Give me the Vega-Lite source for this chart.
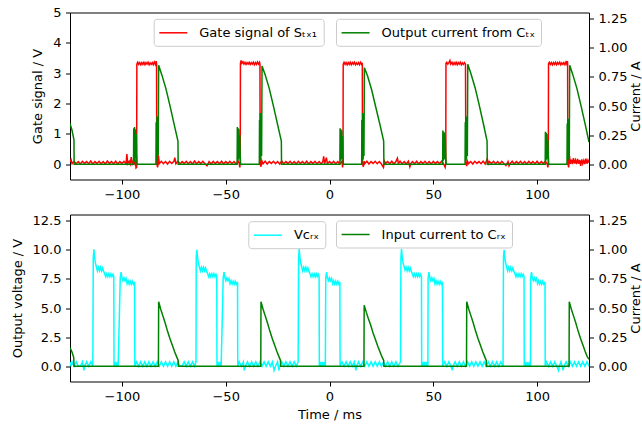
{
"$schema": "https://vega.github.io/schema/vega-lite/v6.json",
"background": "white",
"padding": {"left": 10, "top": 5.5, "right": 0, "bottom": 0},
"autosize": {"type": "pad"},
"spacing": 11,
"align": "each",
"config": {
 "font": "DejaVu Sans",
 "view": {"stroke": "#000000", "strokeWidth": 1},
 "axis": {"domain": false, "grid": false, "tickColor": "#000000", "tickWidth": 1, "tickSize": 4.5, "labelFont": "DejaVu Sans", "labelFontSize": 13, "labelColor": "#000000", "labelPadding": 4.5, "titleFont": "DejaVu Sans", "titleFontSize": 13, "titleFontWeight": "normal", "titleColor": "#000000", "titlePadding": 8, "labelFlush": false, "labelOverlap": false},
 "axisX": {"titlePadding": 5},
 "legend": {"orient": "none", "symbolType": "M-1.2,0H2.8", "symbolSize": 196, "symbolStrokeWidth": 1.5, "labelFont": "DejaVu Sans", "labelFontSize": 13, "labelColor": "#000000", "labelOffset": 23.6, "padding": 6, "strokeColor": "#cccccc", "fillColor": "rgba(255,255,255,0.8)", "cornerRadius": 3}
},
"datasets": {
"gate": [
{"t":-125,"v":0.08},{"t":-124.5,"v":0.15},{"t":-124,"v":0.02},{"t":-123,"v":0.1},{"t":-122,"v":0.02},{"t":-121,"v":0.09},{"t":-120,"v":0.01},{"t":-119,"v":0.1},{"t":-118,"v":0.03},{"t":-117,"v":0.09},{"t":-116,"v":0.02},{"t":-115,"v":0.11},{"t":-114,"v":0.01},{"t":-113,"v":0.09},{"t":-112,"v":0.03},{"t":-111,"v":0.1},{"t":-110,"v":0.02},{"t":-109,"v":0.09},{"t":-108,"v":0.01},{"t":-107,"v":0.11},{"t":-106,"v":0.03},{"t":-105,"v":0.09},{"t":-104,"v":0.02},{"t":-103,"v":0.1},{"t":-102,"v":0.01},{"t":-101,"v":0.09},{"t":-100,"v":0.03},{"t":-99,"v":0.1},{"t":-98,"v":0.02},{"t":-97.6,"v":0.34},{"t":-97.2,"v":0.02},{"t":-96.5,"v":0.1},{"t":-96,"v":0.01},{"t":-95.5,"v":0.24},{"t":-95,"v":0.02},{"t":-94.5,"v":0.1},{"t":-94,"v":0.02},{"t":-93.5,"v":0.09},{"t":-93.2,"v":-0.12},{"t":-92.9,"v":-0.1},
{"t":-92.8,"v":3.3},{"t":-92.4,"v":3.36},{"t":-91.9,"v":3.29},{"t":-91.4,"v":3.35},{"t":-90.9,"v":3.28},{"t":-90.4,"v":3.35},{"t":-89.9,"v":3.29},{"t":-89.4,"v":3.36},{"t":-88.9,"v":3.28},{"t":-88.4,"v":3.35},{"t":-87.9,"v":3.3},{"t":-87.4,"v":3.36},{"t":-86.9,"v":3.28},{"t":-86.4,"v":3.34},{"t":-85.9,"v":3.29},{"t":-85.4,"v":3.35},{"t":-84.9,"v":3.28},{"t":-84.4,"v":3.37},{"t":-83.9,"v":3.29},{"t":-83.5,"v":3.4},{"t":-83.3,"v":3.31},
{"t":-83.2,"v":0.02},{"t":-82.8,"v":-0.1},{"t":-82.4,"v":0.3},{"t":-82,"v":0.02},{"t":-81,"v":0.1},{"t":-80,"v":0.02},{"t":-79,"v":0.09},{"t":-78,"v":0.01},{"t":-77,"v":0.1},{"t":-76,"v":0.03},{"t":-75,"v":0.09},{"t":-74.5,"v":0.22},{"t":-74,"v":0.02},{"t":-73,"v":0.1},{"t":-72,"v":0.01},{"t":-71,"v":0.09},{"t":-70,"v":0.03},{"t":-69,"v":0.1},{"t":-68,"v":0.02},{"t":-67,"v":0.09},{"t":-66,"v":0.01},{"t":-65,"v":0.11},{"t":-64,"v":0.02},{"t":-63,"v":0.09},{"t":-62,"v":0.03},{"t":-61,"v":0.1},{"t":-60,"v":0.02},{"t":-59,"v":-0.05},{"t":-58,"v":0.09},{"t":-57,"v":0.01},{"t":-56,"v":0.1},{"t":-55,"v":0.03},{"t":-54,"v":0.09},{"t":-53,"v":0.02},{"t":-52,"v":0.1},{"t":-51,"v":0.01},{"t":-50,"v":0.09},{"t":-49,"v":0.03},{"t":-48,"v":0.1},{"t":-47,"v":0.02},{"t":-46,"v":0.09},{"t":-45,"v":0.01},{"t":-44,"v":0.1},{"t":-43.5,"v":0.03},{"t":-43.2,"v":-0.1},{"t":-43,"v":0.05},
{"t":-42.9,"v":3.32},{"t":-42.6,"v":3.42},{"t":-42.2,"v":3.33},{"t":-41.7,"v":3.38},{"t":-41.2,"v":3.3},{"t":-40.7,"v":3.36},{"t":-40.2,"v":3.29},{"t":-39.7,"v":3.35},{"t":-39.2,"v":3.3},{"t":-38.7,"v":3.36},{"t":-38.2,"v":3.29},{"t":-37.7,"v":3.35},{"t":-37.2,"v":3.3},{"t":-36.7,"v":3.36},{"t":-36.2,"v":3.28},{"t":-35.7,"v":3.35},{"t":-35.2,"v":3.29},{"t":-34.7,"v":3.37},{"t":-34.2,"v":3.3},{"t":-33.7,"v":3.36},{"t":-33.5,"v":3.3},
{"t":-33.4,"v":0.03},{"t":-33,"v":-0.08},{"t":-32.6,"v":0.12},{"t":-32,"v":0.02},{"t":-31,"v":0.1},{"t":-30,"v":0.01},{"t":-29,"v":0.09},{"t":-28,"v":0.03},{"t":-27,"v":0.1},{"t":-26,"v":0.02},{"t":-25,"v":0.09},{"t":-24,"v":0.01},{"t":-23,"v":0.11},{"t":-22,"v":0.02},{"t":-21,"v":0.09},{"t":-20,"v":0.03},{"t":-19,"v":0.1},{"t":-18,"v":0.02},{"t":-17,"v":0.09},{"t":-16,"v":0.01},{"t":-15,"v":0.1},{"t":-14,"v":0.03},{"t":-13,"v":0.09},{"t":-12,"v":0.02},{"t":-11,"v":0.1},{"t":-10,"v":0.01},{"t":-9,"v":0.09},{"t":-8,"v":0.03},{"t":-7,"v":0.1},{"t":-6,"v":0.02},{"t":-5,"v":0.09},{"t":-4,"v":0.01},{"t":-3.2,"v":0.1},{"t":-2.8,"v":0.26},{"t":-2.4,"v":0.02},{"t":-2,"v":0.1},{"t":-1.5,"v":0.22},{"t":-1,"v":0.02},{"t":0,"v":0.09},{"t":1,"v":0.03},{"t":2,"v":0.1},{"t":3,"v":0.02},{"t":4,"v":0.09},{"t":5,"v":0.01},{"t":6,"v":0.1},{"t":6.3,"v":-0.1},{"t":6.5,"v":0.05},
{"t":6.6,"v":3.3},{"t":7,"v":3.36},{"t":7.5,"v":3.29},{"t":8,"v":3.35},{"t":8.5,"v":3.28},{"t":9,"v":3.35},{"t":9.5,"v":3.29},{"t":10,"v":3.36},{"t":10.5,"v":3.28},{"t":11,"v":3.35},{"t":11.5,"v":3.3},{"t":12,"v":3.36},{"t":12.5,"v":3.28},{"t":13,"v":3.34},{"t":13.5,"v":3.29},{"t":14,"v":3.35},{"t":14.5,"v":3.28},{"t":15,"v":3.36},{"t":15.5,"v":3.29},{"t":15.8,"v":3.34},
{"t":15.9,"v":0.02},{"t":16.3,"v":-0.08},{"t":16.7,"v":0.1},{"t":17,"v":0.02},{"t":18,"v":0.1},{"t":19,"v":0.01},{"t":20,"v":0.09},{"t":21,"v":0.03},{"t":22,"v":0.1},{"t":23,"v":0.02},{"t":24,"v":0.09},{"t":25,"v":0.01},{"t":26,"v":-0.1},{"t":26.5,"v":0.1},{"t":27,"v":0.03},{"t":28,"v":0.09},{"t":29,"v":0.02},{"t":30,"v":0.1},{"t":31,"v":0.01},{"t":32,"v":0.09},{"t":32.7,"v":0.2},{"t":33.2,"v":0.03},{"t":34,"v":0.1},{"t":35,"v":0.02},{"t":36,"v":0.09},{"t":37,"v":0.01},{"t":38,"v":0.1},{"t":38.7,"v":-0.08},{"t":39.2,"v":0.03},{"t":40,"v":0.09},{"t":41,"v":0.02},{"t":42,"v":0.1},{"t":43,"v":0.01},{"t":44,"v":0.09},{"t":45,"v":0.03},{"t":46,"v":0.1},{"t":47,"v":0.02},{"t":48,"v":0.09},{"t":49,"v":0.01},{"t":50,"v":0.1},{"t":51,"v":0.03},{"t":52,"v":0.09},{"t":53,"v":0.02},{"t":54,"v":0.1},{"t":55,"v":0.01},{"t":55.7,"v":-0.1},{"t":56,"v":0.05},
{"t":56.1,"v":3.33},{"t":56.5,"v":3.36},{"t":57,"v":3.3},{"t":57.5,"v":3.35},{"t":58,"v":3.42},{"t":58.4,"v":3.3},{"t":59,"v":3.36},{"t":59.5,"v":3.28},{"t":60,"v":3.35},{"t":60.5,"v":3.29},{"t":61,"v":3.36},{"t":61.5,"v":3.28},{"t":62,"v":3.35},{"t":62.5,"v":3.3},{"t":63,"v":3.36},{"t":63.5,"v":3.28},{"t":64,"v":3.34},{"t":64.5,"v":3.29},{"t":65,"v":3.35},{"t":65.5,"v":3.3},
{"t":65.7,"v":0.03},{"t":66.1,"v":-0.06},{"t":66.5,"v":0.1},{"t":67,"v":0.02},{"t":68,"v":0.09},{"t":69,"v":0.01},{"t":70,"v":0.1},{"t":71,"v":0.03},{"t":72,"v":0.09},{"t":73,"v":0.02},{"t":74,"v":0.1},{"t":75,"v":0.01},{"t":76,"v":0.18},{"t":76.5,"v":0.02},{"t":77,"v":0.09},{"t":78,"v":0.03},{"t":79,"v":0.1},{"t":80,"v":0.02},{"t":81,"v":0.09},{"t":82,"v":0.01},{"t":83,"v":0.1},{"t":84,"v":0.03},{"t":85,"v":-0.04},{"t":86,"v":0.09},{"t":86.5,"v":-0.05},{"t":87,"v":0.02},{"t":88,"v":0.1},{"t":89,"v":0.01},{"t":90,"v":0.09},{"t":91,"v":0.03},{"t":92,"v":0.1},{"t":93,"v":0.02},{"t":94,"v":0.09},{"t":95,"v":0.01},{"t":96,"v":0.1},{"t":97,"v":0.03},{"t":98,"v":0.09},{"t":99,"v":0.02},{"t":100,"v":0.1},{"t":101,"v":0.01},{"t":102,"v":0.09},{"t":103,"v":0.03},{"t":104,"v":0.1},{"t":104.8,"v":0.02},{"t":105.2,"v":-0.1},{"t":105.4,"v":0.05},
{"t":105.5,"v":3.31},{"t":105.9,"v":3.36},{"t":106.4,"v":3.29},{"t":106.9,"v":3.35},{"t":107.4,"v":3.28},{"t":107.9,"v":3.35},{"t":108.4,"v":3.29},{"t":108.9,"v":3.36},{"t":109.4,"v":3.28},{"t":109.9,"v":3.35},{"t":110.4,"v":3.3},{"t":110.9,"v":3.36},{"t":111.4,"v":3.28},{"t":111.9,"v":3.34},{"t":112.4,"v":3.29},{"t":112.9,"v":3.35},{"t":113.4,"v":3.28},{"t":113.9,"v":3.37},{"t":114.3,"v":3.3},{"t":114.6,"v":3.4},{"t":114.7,"v":3.32},
{"t":114.8,"v":0.03},{"t":115.2,"v":-0.1},{"t":115.6,"v":0.28},{"t":116,"v":0.02},{"t":116.5,"v":0.15},{"t":117,"v":0.01},{"t":117.5,"v":0.2},{"t":118,"v":0.03},{"t":118.5,"v":0.14},{"t":119,"v":0.01},{"t":119.5,"v":0.18},{"t":120,"v":0.02},{"t":120.5,"v":0.14},{"t":121,"v":-0.05},{"t":121.5,"v":0.16},{"t":122,"v":0.02},{"t":122.5,"v":0.13},{"t":123,"v":0.01},{"t":123.5,"v":0.19},{"t":124,"v":0.02},{"t":124.5,"v":0.14},{"t":125,"v":0.05}
],
"itx": [
{"t":-125,"v":0.35},{"t":-124,"v":0.29},{"t":-123.1,"v":0.21},{"t":-123,"v":0},
{"t":-94.4,"v":0},{"t":-94.3,"v":0.31},{"t":-94.1,"v":0.02},{"t":-93.9,"v":0.32},{"t":-93.7,"v":0.03},{"t":-93.5,"v":0.3},{"t":-93.3,"v":0.05},{"t":-93.1,"v":0.26},{"t":-92.9,"v":0.08},{"t":-92.7,"v":0},
{"t":-83.6,"v":0},{"t":-83.5,"v":0.36},{"t":-83.3,"v":0.03},{"t":-83.1,"v":0.41},{"t":-82.9,"v":0.04},{"t":-82.7,"v":0.4},{"t":-82.5,"v":0.08},{"t":-82.3,"v":0.85},{"t":-80.8,"v":0.77},{"t":-78.8,"v":0.65},{"t":-76.8,"v":0.5},{"t":-74.8,"v":0.34},{"t":-73.0,"v":0.2},{"t":-72.9,"v":0},
{"t":-44.5,"v":0},{"t":-44.4,"v":0.32},{"t":-44.2,"v":0.03},{"t":-44.0,"v":0.31},{"t":-43.8,"v":0.04},{"t":-43.6,"v":0.3},{"t":-43.4,"v":0.06},{"t":-43.2,"v":0.25},{"t":-43.0,"v":0.07},{"t":-42.8,"v":0},
{"t":-33.8,"v":0},{"t":-33.7,"v":0.38},{"t":-33.5,"v":0.03},{"t":-33.3,"v":0.44},{"t":-33.1,"v":0.04},{"t":-32.9,"v":0.42},{"t":-32.7,"v":0.07},{"t":-32.5,"v":0.845},{"t":-31.0,"v":0.77},{"t":-29.0,"v":0.65},{"t":-27.0,"v":0.5},{"t":-25.0,"v":0.34},{"t":-23.2,"v":0.2},{"t":-23.1,"v":0},
{"t":5.0,"v":0},{"t":5.1,"v":0.31},{"t":5.3,"v":0.03},{"t":5.5,"v":0.3},{"t":5.7,"v":0.04},{"t":5.9,"v":0.29},{"t":6.1,"v":0.05},{"t":6.3,"v":0.24},{"t":6.5,"v":0.07},{"t":6.7,"v":0},
{"t":15.5,"v":0},{"t":15.6,"v":0.38},{"t":15.8,"v":0.03},{"t":16.0,"v":0.44},{"t":16.2,"v":0.04},{"t":16.4,"v":0.42},{"t":16.6,"v":0.07},{"t":16.8,"v":0.83},{"t":18.3,"v":0.76},{"t":20.3,"v":0.64},{"t":22.3,"v":0.49},{"t":24.3,"v":0.34},{"t":26.1,"v":0.2},{"t":26.2,"v":0},
{"t":54.5,"v":0},{"t":54.6,"v":0.29},{"t":54.8,"v":0.03},{"t":55.0,"v":0.28},{"t":55.2,"v":0.04},{"t":55.4,"v":0.27},{"t":55.6,"v":0.05},{"t":55.8,"v":0.22},{"t":56.0,"v":0.07},{"t":56.2,"v":0},
{"t":65.3,"v":0},{"t":65.4,"v":0.36},{"t":65.6,"v":0.03},{"t":65.8,"v":0.41},{"t":66.0,"v":0.04},{"t":66.2,"v":0.39},{"t":66.4,"v":0.07},{"t":66.6,"v":0.86},{"t":68.1,"v":0.78},{"t":70.1,"v":0.66},{"t":72.1,"v":0.51},{"t":74.1,"v":0.35},{"t":75.9,"v":0.2},{"t":76.0,"v":0},
{"t":103.9,"v":0},{"t":104.0,"v":0.28},{"t":104.2,"v":0.03},{"t":104.4,"v":0.27},{"t":104.6,"v":0.04},{"t":104.8,"v":0.26},{"t":105.0,"v":0.05},{"t":105.2,"v":0.21},{"t":105.4,"v":0.07},{"t":105.6,"v":0},
{"t":114.4,"v":0},{"t":114.5,"v":0.35},{"t":114.7,"v":0.03},{"t":114.9,"v":0.39},{"t":115.1,"v":0.04},{"t":115.3,"v":0.37},{"t":115.5,"v":0.07},{"t":115.7,"v":0.85},{"t":117.2,"v":0.77},{"t":119.2,"v":0.65},{"t":121.2,"v":0.5},{"t":123.2,"v":0.34},{"t":125,"v":0.19}
],
"vcrx": [
{"t":-125,"v":0.38},{"t":-124.5,"v":0},{"t":-124,"v":0.38},{"t":-123,"v":0},{"t":-122,"v":0.38},{"t":-121,"v":0},{"t":-120,"v":0},{"t":-119,"v":0.38},{"t":-118.3,"v":-0.35},{"t":-118,"v":0},{"t":-117,"v":0.38},{"t":-116,"v":0},{"t":-115,"v":0.38},{"t":-114,"v":0},
{"t":-113.8,"v":9.3},{"t":-113.5,"v":10.05},{"t":-113.2,"v":9.4},{"t":-112.8,"v":8.9},{"t":-112.3,"v":8.55},{"t":-111.8,"v":8.2},{"t":-111.3,"v":8.5},{"t":-110.8,"v":8.2},{"t":-110.3,"v":8.5},{"t":-109.8,"v":8.2},{"t":-109.3,"v":8.45},{"t":-108.8,"v":8.15},{"t":-108.3,"v":7.95},{"t":-107.8,"v":7.7},{"t":-107.3,"v":7.95},{"t":-106.8,"v":7.7},{"t":-106.3,"v":7.95},{"t":-105.8,"v":7.7},{"t":-105.3,"v":7.95},{"t":-104.8,"v":7.7},{"t":-104.3,"v":7.9},{"t":-103.9,"v":7.7},
{"t":-103.8,"v":0},{"t":-103.3,"v":0.38},{"t":-102.8,"v":0},{"t":-102.3,"v":0.38},{"t":-101.8,"v":0},
{"t":-100.8,"v":7.6},{"t":-100.4,"v":8.1},{"t":-100,"v":7.6},{"t":-99.5,"v":7.35},{"t":-99,"v":7.6},{"t":-98.5,"v":7.35},{"t":-98,"v":7.55},{"t":-97.5,"v":7.1},{"t":-97,"v":7.35},{"t":-96.5,"v":7.05},{"t":-96,"v":7.3},{"t":-95.5,"v":7.05},{"t":-95,"v":7.3},{"t":-94.5,"v":7.05},{"t":-93.9,"v":7.25},
{"t":-93.8,"v":0},{"t":-93,"v":0.38},{"t":-92,"v":0},{"t":-91,"v":0.38},{"t":-90,"v":0},{"t":-89,"v":0.38},{"t":-88,"v":0},{"t":-87,"v":0.38},{"t":-86,"v":0},{"t":-85,"v":0.38},{"t":-84,"v":0},{"t":-83,"v":0.38},{"t":-82,"v":0},{"t":-81,"v":0.38},{"t":-80,"v":0},{"t":-79,"v":0.38},{"t":-78,"v":0},{"t":-77,"v":0.38},{"t":-76,"v":0},{"t":-75,"v":0.38},{"t":-74,"v":0},{"t":-73,"v":0.38},{"t":-72,"v":0},{"t":-71,"v":0},{"t":-70,"v":0.38},{"t":-69,"v":0},{"t":-68,"v":0.38},{"t":-67,"v":0},{"t":-66,"v":0.38},{"t":-65,"v":0},{"t":-64.3,"v":0.38},
{"t":-64.2,"v":9.3},{"t":-63.9,"v":10.0},{"t":-63.6,"v":9.4},{"t":-63.2,"v":8.9},{"t":-62.7,"v":8.55},{"t":-62.2,"v":8.2},{"t":-61.7,"v":8.5},{"t":-61.2,"v":8.2},{"t":-60.7,"v":8.5},{"t":-60.2,"v":8.2},{"t":-59.7,"v":8.45},{"t":-59.2,"v":8.15},{"t":-58.7,"v":7.95},{"t":-58.2,"v":7.7},{"t":-57.7,"v":7.95},{"t":-57.2,"v":7.7},{"t":-56.7,"v":7.95},{"t":-56.2,"v":7.7},{"t":-55.7,"v":7.95},{"t":-55.2,"v":7.7},{"t":-54.7,"v":7.9},{"t":-54.3,"v":7.7},
{"t":-54.2,"v":0},{"t":-53.7,"v":0.38},{"t":-53.2,"v":0},{"t":-52.7,"v":0.38},{"t":-52.2,"v":0},
{"t":-51.2,"v":7.6},{"t":-50.8,"v":8.1},{"t":-50.4,"v":7.6},{"t":-49.9,"v":7.35},{"t":-49.4,"v":7.6},{"t":-48.9,"v":7.35},{"t":-48.4,"v":7.55},{"t":-47.9,"v":7.1},{"t":-47.4,"v":7.35},{"t":-46.9,"v":7.05},{"t":-46.4,"v":7.3},{"t":-45.9,"v":7.05},{"t":-45.4,"v":7.3},{"t":-44.9,"v":7.05},{"t":-44.3,"v":7.25},
{"t":-44.2,"v":0},{"t":-43.5,"v":0.38},{"t":-42.5,"v":0},{"t":-41.5,"v":0.38},{"t":-41.1,"v":-0.35},{"t":-40.5,"v":0},{"t":-39.5,"v":0.38},{"t":-38.5,"v":0},{"t":-37.5,"v":0.38},{"t":-36.5,"v":0},{"t":-35.5,"v":0.38},{"t":-34.5,"v":0},{"t":-33.5,"v":0.38},{"t":-32.5,"v":0},{"t":-31.5,"v":0.38},{"t":-30.5,"v":0},{"t":-29.5,"v":0.38},{"t":-28.5,"v":0},{"t":-27.5,"v":0.38},{"t":-26.7,"v":-0.35},{"t":-26,"v":0},{"t":-25,"v":0.38},{"t":-24.4,"v":-0.35},{"t":-24,"v":0},{"t":-23,"v":0.38},{"t":-22,"v":0},{"t":-21,"v":0.38},{"t":-20,"v":0},{"t":-19,"v":0.38},{"t":-18,"v":0},{"t":-17,"v":0.38},{"t":-16,"v":0},{"t":-15.1,"v":0.38},
{"t":-14.9,"v":9.3},{"t":-14.6,"v":10.1},{"t":-14.3,"v":9.4},{"t":-13.9,"v":8.9},{"t":-13.4,"v":8.55},{"t":-12.9,"v":8.2},{"t":-12.4,"v":8.5},{"t":-11.9,"v":8.2},{"t":-11.4,"v":8.5},{"t":-10.9,"v":8.2},{"t":-10.4,"v":8.45},{"t":-9.9,"v":8.15},{"t":-9.4,"v":7.95},{"t":-8.9,"v":7.7},{"t":-8.4,"v":7.95},{"t":-7.9,"v":7.7},{"t":-7.4,"v":7.95},{"t":-6.9,"v":7.7},{"t":-6.4,"v":7.95},{"t":-5.9,"v":7.7},{"t":-5.4,"v":7.9},{"t":-5.0,"v":7.7},
{"t":-4.9,"v":0},{"t":-4.4,"v":0.38},{"t":-3.9,"v":0},{"t":-3.4,"v":0.38},{"t":-2.9,"v":0},{"t":-2.4,"v":0.38},{"t":-2.0,"v":0},
{"t":-1.8,"v":7.6},{"t":-1.4,"v":8.1},{"t":-1.0,"v":7.6},{"t":-0.5,"v":7.35},{"t":0,"v":7.6},{"t":0.5,"v":7.35},{"t":1.0,"v":7.55},{"t":1.5,"v":7.1},{"t":2.0,"v":7.35},{"t":2.5,"v":7.05},{"t":3.0,"v":7.3},{"t":3.5,"v":7.05},{"t":4.0,"v":7.3},{"t":4.5,"v":7.05},{"t":5.0,"v":7.25},
{"t":5.1,"v":0},{"t":6,"v":0.38},{"t":7,"v":0},{"t":8,"v":0.38},{"t":9,"v":0},{"t":10,"v":0.38},{"t":11,"v":0},{"t":12,"v":0.38},{"t":12.7,"v":-0.35},{"t":13,"v":0},{"t":14,"v":0.38},{"t":15,"v":0},{"t":16,"v":0.38},{"t":17,"v":0},{"t":18,"v":0.38},{"t":19,"v":0},{"t":20,"v":0.38},{"t":21,"v":0},{"t":22,"v":0.38},{"t":23,"v":0},{"t":24,"v":0.38},{"t":25,"v":0},{"t":26,"v":0.38},{"t":27,"v":0},{"t":28,"v":0.38},{"t":29,"v":0},{"t":30,"v":0.38},{"t":31,"v":0},{"t":32,"v":0.38},{"t":33,"v":0},{"t":34.2,"v":0.38},
{"t":34.4,"v":9.3},{"t":34.7,"v":10.1},{"t":35.0,"v":9.4},{"t":35.4,"v":8.9},{"t":35.9,"v":8.6},{"t":36.4,"v":8.25},{"t":36.9,"v":8.5},{"t":37.4,"v":8.2},{"t":37.9,"v":8.5},{"t":38.4,"v":8.2},{"t":38.9,"v":8.45},{"t":39.4,"v":8.15},{"t":39.9,"v":7.95},{"t":40.4,"v":7.7},{"t":40.9,"v":7.95},{"t":41.4,"v":7.7},{"t":41.9,"v":7.95},{"t":42.4,"v":7.7},{"t":42.9,"v":7.95},{"t":43.4,"v":7.7},{"t":43.9,"v":7.9},{"t":44.3,"v":7.7},
{"t":44.4,"v":0},{"t":44.9,"v":0.38},{"t":45.4,"v":0},{"t":45.9,"v":0.38},{"t":46.4,"v":0},{"t":46.9,"v":0.38},{"t":47.4,"v":0},
{"t":47.5,"v":7.6},{"t":47.9,"v":8.1},{"t":48.3,"v":7.6},{"t":48.8,"v":7.35},{"t":49.3,"v":7.6},{"t":49.8,"v":7.35},{"t":50.3,"v":7.55},{"t":50.8,"v":7.1},{"t":51.3,"v":7.35},{"t":51.8,"v":7.05},{"t":52.3,"v":7.3},{"t":52.8,"v":7.05},{"t":53.3,"v":7.3},{"t":53.8,"v":7.05},{"t":54.4,"v":7.25},
{"t":54.5,"v":0},{"t":55.5,"v":0.38},{"t":56.5,"v":0},{"t":57.5,"v":0.38},{"t":58.5,"v":0},{"t":59.2,"v":-0.35},{"t":59.5,"v":0},{"t":60.5,"v":0.38},{"t":61.5,"v":0},{"t":62.5,"v":0.38},{"t":63.5,"v":0},{"t":64.5,"v":0.38},{"t":65.5,"v":0},{"t":66.5,"v":0.38},{"t":67.5,"v":0},{"t":68.5,"v":0.38},{"t":69.5,"v":0},{"t":70.5,"v":0.38},{"t":71.5,"v":0},{"t":72.5,"v":0.38},{"t":73.5,"v":0},{"t":74.5,"v":0.38},{"t":75.5,"v":0},{"t":76.5,"v":0.38},{"t":77.5,"v":0},{"t":78.5,"v":0.38},{"t":79.5,"v":0},{"t":80.5,"v":0.38},{"t":81.5,"v":0},{"t":82.5,"v":0.38},{"t":83.6,"v":0},
{"t":83.8,"v":9.3},{"t":84.1,"v":10.0},{"t":84.4,"v":9.4},{"t":84.8,"v":8.9},{"t":85.3,"v":8.55},{"t":85.8,"v":8.2},{"t":86.3,"v":8.5},{"t":86.8,"v":8.2},{"t":87.3,"v":8.5},{"t":87.8,"v":8.2},{"t":88.3,"v":8.45},{"t":88.8,"v":8.15},{"t":89.3,"v":7.95},{"t":89.8,"v":7.7},{"t":90.3,"v":7.95},{"t":90.8,"v":7.7},{"t":91.3,"v":7.95},{"t":91.8,"v":7.7},{"t":92.3,"v":7.95},{"t":92.8,"v":7.7},{"t":93.3,"v":7.9},{"t":93.7,"v":7.7},
{"t":93.8,"v":0},{"t":94.3,"v":0.38},{"t":94.8,"v":0},{"t":95.3,"v":0.38},{"t":95.8,"v":0},{"t":96.3,"v":0.38},{"t":96.8,"v":0},
{"t":96.9,"v":7.6},{"t":97.3,"v":8.1},{"t":97.7,"v":7.6},{"t":98.2,"v":7.35},{"t":98.7,"v":7.6},{"t":99.2,"v":7.35},{"t":99.7,"v":7.55},{"t":100.2,"v":7.1},{"t":100.7,"v":7.35},{"t":101.2,"v":7.05},{"t":101.7,"v":7.3},{"t":102.2,"v":7.05},{"t":102.7,"v":7.3},{"t":103.2,"v":7.05},{"t":103.8,"v":7.25},
{"t":103.9,"v":0},{"t":104.5,"v":0.38},{"t":105.5,"v":0},{"t":106.5,"v":0.38},{"t":107.5,"v":0},{"t":108.5,"v":0.38},{"t":109.5,"v":0},{"t":110.3,"v":-0.35},{"t":110.7,"v":0},{"t":111.5,"v":0.38},{"t":112.5,"v":-0.35},{"t":113,"v":0},{"t":114,"v":0.38},{"t":115,"v":0},{"t":116,"v":0.38},{"t":117,"v":0},{"t":118,"v":0.38},{"t":119,"v":0},{"t":120,"v":0.38},{"t":121,"v":0},{"t":122,"v":0.38},{"t":123,"v":0},{"t":124,"v":0.38},{"t":125,"v":0}
],
"irx": [
{"t":-125,"v":0.16},{"t":-124,"v":0.12},{"t":-123.2,"v":0.075},{"t":-123.1,"v":0},
{"t":-82.4,"v":0},{"t":-82.3,"v":0.555},{"t":-81.3,"v":0.49},{"t":-80.3,"v":0.435},{"t":-79.3,"v":0.38},{"t":-78.0,"v":0.3},{"t":-76.8,"v":0.235},{"t":-75.7,"v":0.18},{"t":-74.6,"v":0.125},{"t":-73.7,"v":0.085},{"t":-72.9,"v":0.05},{"t":-72.8,"v":0},
{"t":-33.1,"v":0},{"t":-33.0,"v":0.555},{"t":-32.0,"v":0.49},{"t":-31.0,"v":0.435},{"t":-30.0,"v":0.38},{"t":-28.7,"v":0.3},{"t":-27.5,"v":0.235},{"t":-26.4,"v":0.18},{"t":-25.3,"v":0.125},{"t":-24.4,"v":0.085},{"t":-23.6,"v":0.05},{"t":-23.5,"v":0},
{"t":16.6,"v":0},{"t":16.7,"v":0.525},{"t":17.7,"v":0.465},{"t":18.7,"v":0.41},{"t":19.7,"v":0.36},{"t":21.0,"v":0.285},{"t":22.2,"v":0.225},{"t":23.3,"v":0.17},{"t":24.4,"v":0.12},{"t":25.3,"v":0.08},{"t":26.1,"v":0.05},{"t":26.2,"v":0},
{"t":66.0,"v":0},{"t":66.1,"v":0.555},{"t":67.1,"v":0.49},{"t":68.1,"v":0.435},{"t":69.1,"v":0.38},{"t":70.4,"v":0.3},{"t":71.6,"v":0.235},{"t":72.7,"v":0.18},{"t":73.8,"v":0.125},{"t":74.7,"v":0.085},{"t":75.5,"v":0.05},{"t":75.6,"v":0},
{"t":115.4,"v":0},{"t":115.5,"v":0.555},{"t":116.5,"v":0.49},{"t":117.5,"v":0.435},{"t":118.5,"v":0.38},{"t":119.8,"v":0.3},{"t":121.0,"v":0.235},{"t":122.1,"v":0.18},{"t":123.2,"v":0.125},{"t":124.1,"v":0.085},{"t":125,"v":0.06}
]
},
"vconcat": [
 {
  "width": 519, "height": 167,
  "layer": [
   {"data": {"name": "gate"},
    "mark": {"type": "line", "strokeWidth": 1.5, "clip": true},
    "encoding": {
     "x": {"field": "t", "type": "quantitative", "scale": {"domain": [-125, 125], "nice": false, "zero": false}, "axis": {"title": null, "values": [-100, -50, 0, 50, 100]}},
     "y": {"field": "v", "type": "quantitative", "scale": {"domain": [-0.5, 5], "nice": false, "zero": false}, "axis": {"title": "Gate signal / V", "values": [0, 1, 2, 3, 4, 5], "format": "d"}},
     "color": {"datum": "Gate signal of Sₜₓ₁", "type": "nominal", "scale": {"range": ["#ff0000"]}, "legend": {"title": null, "legendX": 83.7, "legendY": 6.3}}
    }},
   {"data": {"name": "itx"},
    "mark": {"type": "line", "strokeWidth": 1.5, "clip": true},
    "encoding": {
     "x": {"field": "t", "type": "quantitative", "scale": {"domain": [-125, 125], "nice": false, "zero": false}, "axis": {"title": null, "values": [-100, -50, 0, 50, 100]}},
     "y": {"field": "v", "type": "quantitative", "scale": {"domain": [-0.131, 1.304], "nice": false, "zero": false}, "axis": {"orient": "right", "title": "Current / A", "titleAngle": 270, "titleBaseline": "top", "titlePadding": 3, "values": [0, 0.25, 0.5, 0.75, 1, 1.25], "format": ".2f"}},
     "color": {"datum": "Output current from Cₜₓ", "type": "nominal", "scale": {"range": ["#008000"]}, "legend": {"title": null, "legendX": 266, "legendY": 6.3}}
    }}
  ],
  "resolve": {"scale": {"y": "independent", "color": "independent"}}
 },
 {
  "width": 519, "height": 167,
  "layer": [
   {"data": {"name": "vcrx"},
    "mark": {"type": "line", "strokeWidth": 1.5, "clip": true},
    "encoding": {
     "x": {"field": "t", "type": "quantitative", "scale": {"domain": [-125, 125], "nice": false, "zero": false}, "axis": {"title": "Time / ms", "values": [-100, -50, 0, 50, 100]}},
     "y": {"field": "v", "type": "quantitative", "scale": {"domain": [-1.31, 13.04], "nice": false, "zero": false}, "axis": {"title": "Output voltage / V", "values": [0, 2.5, 5, 7.5, 10, 12.5], "format": ".1f"}},
     "color": {"datum": "Vᴄᵣₓ", "type": "nominal", "scale": {"range": ["#00ffff"]}, "legend": {"title": null, "legendX": 178.3, "legendY": 6.7}}
    }},
   {"data": {"name": "irx"},
    "mark": {"type": "line", "strokeWidth": 1.5, "clip": true},
    "encoding": {
     "x": {"field": "t", "type": "quantitative", "scale": {"domain": [-125, 125], "nice": false, "zero": false}, "axis": {"title": "Time / ms", "values": [-100, -50, 0, 50, 100]}},
     "y": {"field": "v", "type": "quantitative", "scale": {"domain": [-0.131, 1.304], "nice": false, "zero": false}, "axis": {"orient": "right", "title": "Current / A", "titleAngle": 270, "titleBaseline": "top", "titlePadding": 3, "values": [0, 0.25, 0.5, 0.75, 1, 1.25], "format": ".2f"}},
     "color": {"datum": "Input current to Cᵣₓ", "type": "nominal", "scale": {"range": ["#008000"]}, "legend": {"title": null, "legendX": 266, "legendY": 6}}
    }}
  ],
  "resolve": {"scale": {"y": "independent", "color": "independent"}}
 }
]
}
